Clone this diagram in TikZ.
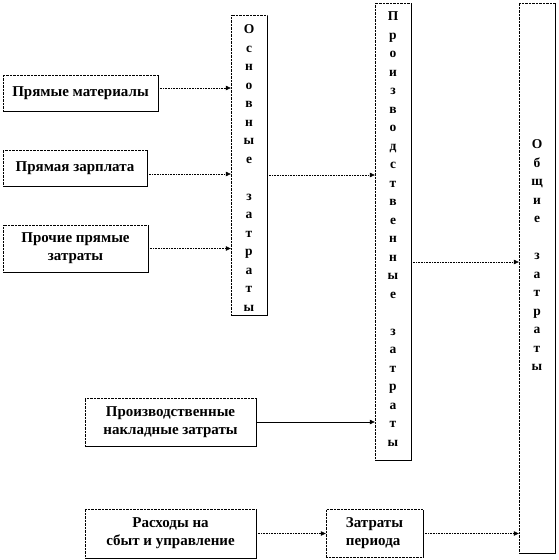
\documentclass[tikz,border=0pt]{standalone}
\usepackage{fontspec}
\setmainfont{Liberation Serif}[BoldFont={Liberation Serif Bold}]
\usetikzlibrary{arrows.meta,positioning,shadows}
\tikzset{
  box/.style={draw,densely dotted,fill=white,inner sep=0pt,align=center,
    font=\fontsize{15}{18}\selectfont\bfseries,
    drop shadow={shadow xshift=0.8pt,shadow yshift=-0.8pt,fill=black,opacity=1}},
  col/.style={box,minimum width=36pt},
  letters/.style={inner sep=0pt,align=center,font=\fontsize{13.5}{18.5}\selectfont\bfseries},
  flow/.style={densely dotted,line width=0.6pt,-{Triangle[length=5pt,width=4.5pt]}},
}
\begin{document}
\begin{tikzpicture}[x=1pt,y=-1pt]
  \useasboundingbox (0,0) rectangle (558,560);
  % left boxes
  \node[box,minimum width=155pt,minimum height=36pt] (mat) at (80.5,93) {Прямые материалы};
  \node[box,minimum width=144pt,minimum height=36pt] (zp) at (75,168) {Прямая зарплата};
  \node[box,minimum width=145pt,minimum height=47pt] (proch) at (75.5,248.5) {Прочие прямые\\затраты};
  \node[box,minimum width=171pt,minimum height=48pt] (nakl) at (170.5,422) {Производственные\\накладные затраты};
  \node[box,minimum width=171pt,minimum height=49pt] (sbyt) at (170.5,533.5) {Расходы на\\сбыт и управление};
  \node[box,minimum width=97pt,minimum height=48pt,align=left] (period) at (374.5,533.5) {Затраты\\периода};
  % columns
  \node[col,minimum height=300pt] (osn) at (249,165) {};
  \node[col,minimum height=457pt] (proizv) at (393,231.5) {};
  \node[col,minimum height=550pt] (obsh) at (537,278) {};
  \node[letters,below=10pt of osn.north] (osnt) {О\\с\\н\\о\\в\\н\\ы\\е\\[18.5pt]з\\а\\т\\р\\а\\т\\ы};
  \node[letters,below=9pt of proizv.north] (proizvt) {П\\р\\о\\и\\з\\в\\о\\д\\с\\т\\в\\е\\н\\н\\ы\\е\\[18.5pt]з\\а\\т\\р\\а\\т\\ы};
  \node[letters,below=137pt of obsh.north] (obsht) {О\\б\\щ\\и\\е\\[18.5pt]з\\а\\т\\р\\а\\т\\ы};
  % connectors
  \foreach \a/\s in {mat/5, zp/-6, proch/0}
    \draw[flow] ([yshift=\s pt]\a.east) -- ([yshift=\s pt]\a.east -| osn.west);
  \draw[flow] ([yshift=-10pt]osn.east) -- ([yshift=-10pt]osn.east -| proizv.west);
  \draw[flow] ([yshift=-30.5pt]proizv.east) -- ([yshift=-30.5pt]proizv.east -| obsh.west);
  \draw[flow,solid] (nakl.east) -- (nakl.east -| proizv.west);
  \draw[flow] (sbyt.east) -- (period.west);
  \draw[flow] (period.east) -- (period.east -| obsh.west);
\end{tikzpicture}
\end{document}
